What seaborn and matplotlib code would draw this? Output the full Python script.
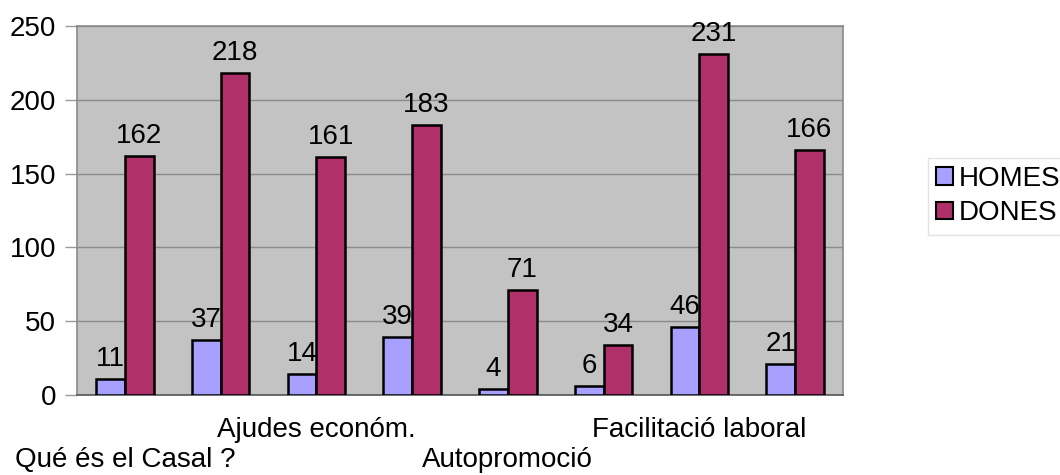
import matplotlib
matplotlib.use("Agg")
import matplotlib.pyplot as plt
import seaborn as sns
import pandas as pd
import numpy as np

# Data
categories = ["C1", "C2", "C3", "C4", "C5", "C6", "C7", "C8"]
tick_labels = ["\nQué és el Casal ?", "", "Ajudes económ.", "", "\nAutopromoció", "", "Facilitació laboral", ""]
homes = [11, 37, 14, 39, 4, 6, 46, 21]
dones = [162, 218, 161, 183, 71, 34, 231, 166]
series = ["HOMES", "DONES"]
y_ticks = [0, 50, 100, 150, 200, 250]

df = pd.DataFrame({
    "cat": categories * 2,
    "value": homes + dones,
    "serie": [series[0]] * len(categories) + [series[1]] * len(categories),
})

sns.set_style("white")
plt.rcParams["font.family"] = ["Liberation Sans", "DejaVu Sans"]
plt.rcParams["text.color"] = "black"
plt.rcParams["xtick.color"] = "black"
plt.rcParams["ytick.color"] = "black"

FS = 20

fig = plt.figure(figsize=(10.6, 4.75), dpi=100)
ax = fig.add_axes([77 / 1060, 1 - 395 / 475, (843 - 77) / 1060, (395 - 26) / 475])
ax.set_facecolor("#c3c3c3")

palette = {"HOMES": "#a8a0ff", "DONES": "#b0306a"}
sns.barplot(data=df, x="cat", y="value", hue="serie", order=categories,
            hue_order=series, palette=palette, width=0.6, gap=0,
            edgecolor="black", linewidth=1.8, saturation=1, ax=ax, zorder=3)

for cont in ax.containers:
    ax.bar_label(cont, fontsize=FS, padding=5, color="black")

ax.set_ylim(0, 250)
ax.set_xlim(-0.5, len(categories) - 0.5)
ax.set_yticks(y_ticks)
ax.set_yticklabels([str(v) for v in y_ticks], fontsize=FS)
ax.yaxis.grid(True, color="#8a8a8a", linewidth=1.0, zorder=0)
ax.xaxis.grid(False)
ax.set_axisbelow(True)

ax.set_xticks(range(len(categories)))
ax.set_xticklabels(tick_labels, fontsize=FS)
ax.tick_params(axis="x", which="major", length=0, pad=16)
ax.set_xticks(np.arange(len(categories) + 1) - 0.5, minor=True)
ax.tick_params(axis="x", which="minor", length=8, color="#999999", width=1)
ax.tick_params(axis="y", which="major", length=9, color="#999999", labelcolor="black",
               width=1, left=True, pad=6)

ax.set_xlabel("")
ax.set_ylabel("")

for s in ax.spines.values():
    s.set_color("#8a8a8a")
    s.set_linewidth(1.2)
ax.spines["bottom"].set_color("#555555")

ax.legend_.remove()
handles = [plt.Rectangle((0, 0), 1, 1, facecolor=palette[s], edgecolor="black", linewidth=1.5) for s in series]
leg = fig.legend(handles, series, loc="center left", bbox_to_anchor=(928 / 1060, 1 - 196 / 475),
                 fontsize=FS, frameon=True, fancybox=False, edgecolor="#dddddd",
                 handlelength=0.6, handleheight=0.6, handletextpad=0.2, labelspacing=0.3,
                 borderpad=0.3, borderaxespad=0)

fig.savefig("out.png", dpi=100, facecolor="white")
